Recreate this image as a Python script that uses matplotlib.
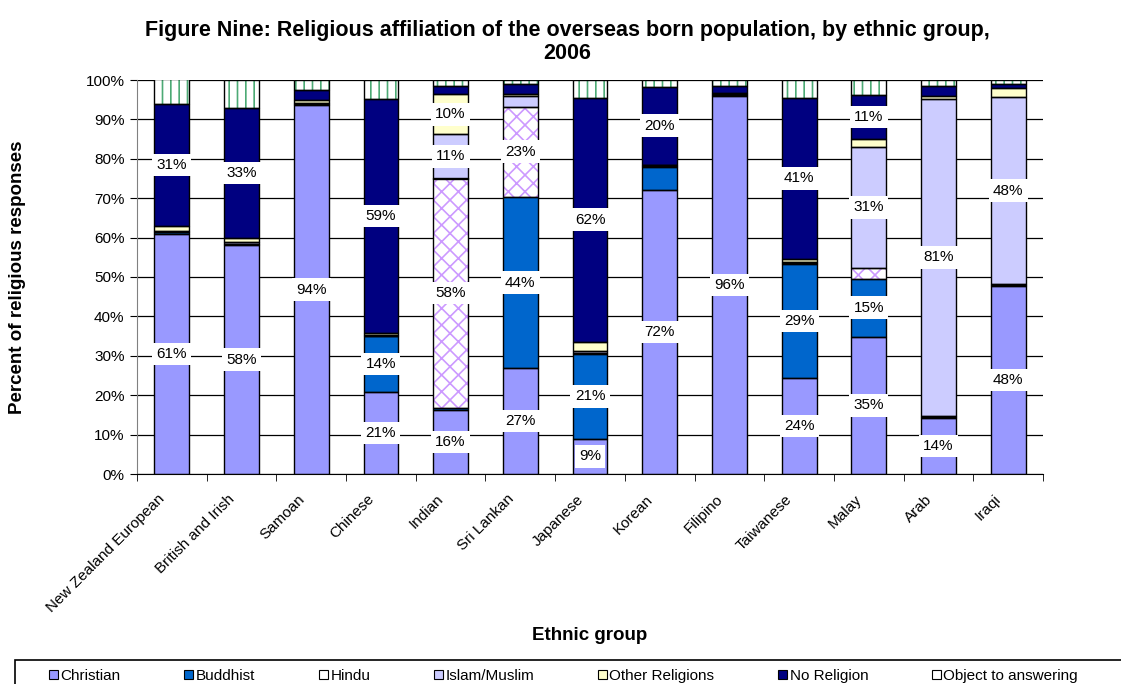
import numpy as np
import matplotlib
matplotlib.use("Agg")
import matplotlib.pyplot as plt
from matplotlib.patches import Patch, Rectangle
from matplotlib.transforms import ScaledTranslation

plt.rcParams["font.family"] = ["Liberation Sans", "DejaVu Sans"]
plt.rcParams["hatch.linewidth"] = 1.2

groups = ["New Zealand European", "British and Irish", "Samoan", "Chinese", "Indian",
          "Sri Lankan", "Japanese", "Korean", "Filipino", "Taiwanese", "Malay", "Arab", "Iraqi"]

# percent of religious responses, per ethnic group
christian = [61.0, 58.0, 93.6, 20.9, 16.3, 26.8, 9.0, 72.1, 96.0, 24.3, 34.8, 14.3, 47.7]
buddhist = [0.3, 0.3, 0.3, 14.0, 0.5, 43.6, 21.4, 5.9, 0.2, 29.0, 14.8, 0.2, 0.3]
hindu = [0.2, 0.2, 0.1, 0.1, 58.2, 22.8, 0.2, 0.1, 0.1, 0.2, 2.8, 0.1, 0.1]
islam = [0.2, 0.3, 0.2, 0.3, 11.2, 2.8, 0.6, 0.2, 0.2, 0.3, 30.6, 80.7, 47.6]
other = [1.2, 1.2, 0.6, 0.5, 10.2, 0.5, 2.4, 0.2, 0.1, 0.7, 2.0, 0.6, 2.2]
no_religion = [31.0, 32.8, 2.6, 59.4, 2.0, 2.4, 61.9, 19.8, 2.0, 41.0, 11.2, 2.5, 1.2]
objected = [6.3, 7.2, 2.6, 4.8, 1.6, 1.1, 4.5, 1.7, 1.4, 4.5, 3.8, 1.6, 0.9]

series = [
    ("Christian", christian, "#9999FF", None, None),
    ("Buddhist", buddhist, "#0066CC", None, None),
    ("Hindu", hindu, "white", "xx", "#CC99FF"),
    ("Islam/Muslim", islam, "#CCCCFF", None, None),
    ("Other Religions", other, "#FFFFCC", None, None),
    ("No Religion", no_religion, "#000080", None, None),
    ("Object to answering", objected, "white", "||", "#4DAA75"),
]

fig = plt.figure(figsize=(11.21, 6.84), dpi=100)
ax = fig.add_axes([137 / 1121, 1 - 474 / 684, (1043 - 137) / 1121, (474 - 80) / 684])

x = np.arange(len(groups))
width = 0.5
bottom = np.zeros(len(groups))
for name, vals, face, hatch, hcol in series:
    vals = np.array(vals)
    ax.bar(x, vals, width, bottom=bottom, color=face, edgecolor="none", lw=0, zorder=2)
    if hatch:
        ax.bar(x, vals, width, bottom=bottom, fill=False, edgecolor=hcol, hatch=hatch,
               lw=0, zorder=2.1)
    ax.bar(x, vals, width, bottom=bottom, fill=False, edgecolor="black", lw=1.0, zorder=2.2)
    for xi, v, b in zip(x, vals, bottom):
        if v >= 8.5:
            ax.text(xi, b + v / 2, f"{v:.0f}%", ha="center", va="center", fontsize=11,
                    zorder=5, bbox=dict(boxstyle="square,pad=0.28", fc="white", ec="none"))
    bottom += vals

ax.set_xlim(-0.5, len(groups) - 0.5)
ax.set_ylim(0, 100)
ax.set_yticks(np.arange(0, 101, 10))
ax.set_yticklabels([f"{t}%" for t in range(0, 101, 10)], fontsize=11)
ax.yaxis.grid(True, color="black", lw=0.9, zorder=0)
ax.set_axisbelow(True)

ax.set_xticks(x)
ax.set_xticklabels(groups, rotation=45, ha="right", va="top", fontsize=11)
ax.set_xticks(np.arange(-0.5, len(groups)), minor=True)
ax.tick_params(axis="x", which="major", length=0, pad=13)
ax.tick_params(axis="x", which="minor", length=5, color="black")
ax.tick_params(axis="y", length=5, color="black", pad=4)
shift = ScaledTranslation(-4 / 100, 0, fig.dpi_scale_trans)
for lab in ax.get_xticklabels():
    lab.set_transform(lab.get_transform() + shift)

for side in ("top", "right"):
    ax.spines[side].set_visible(False)
ax.spines["left"].set_color("#808080")
ax.spines["bottom"].set_color("black")

fig.text(18 / 1121, 1 - 277 / 684, "Percent of religious responses", rotation=90,
         ha="center", va="center", fontsize=13.5, fontweight="bold")
fig.text(590 / 1121, 1 - 636 / 684, "Ethnic group", ha="center", va="center",
         fontsize=13.5, fontweight="bold")

fig.text(567 / 1121, 1 - 42 / 684,
         "Figure Nine: Religious affiliation of the overseas born population, by ethnic group,\n2006",
         ha="center", va="center", fontsize=15.5, fontweight="bold", linespacing=1.15)

# legend strip along the bottom edge
fig.patches.append(Rectangle((15 / 1121, -0.05), 1.2, 1 - 660 / 684 + 0.05,
                             transform=fig.transFigure, fill=False, ec="black", lw=1.2))
handles = [Patch(facecolor=face, edgecolor="black", lw=0.8, label=name)
           for name, _, face, _, _ in series]
fig.legend(handles=handles, loc="center left", bbox_to_anchor=(49 / 1121, 1 - 676 / 684),
           ncol=7, frameon=False, fontsize=11, handlelength=0.6, handleheight=0.6,
           handletextpad=0.15, columnspacing=4.17, borderpad=0, borderaxespad=0)

fig.savefig("out.png", dpi=100)
